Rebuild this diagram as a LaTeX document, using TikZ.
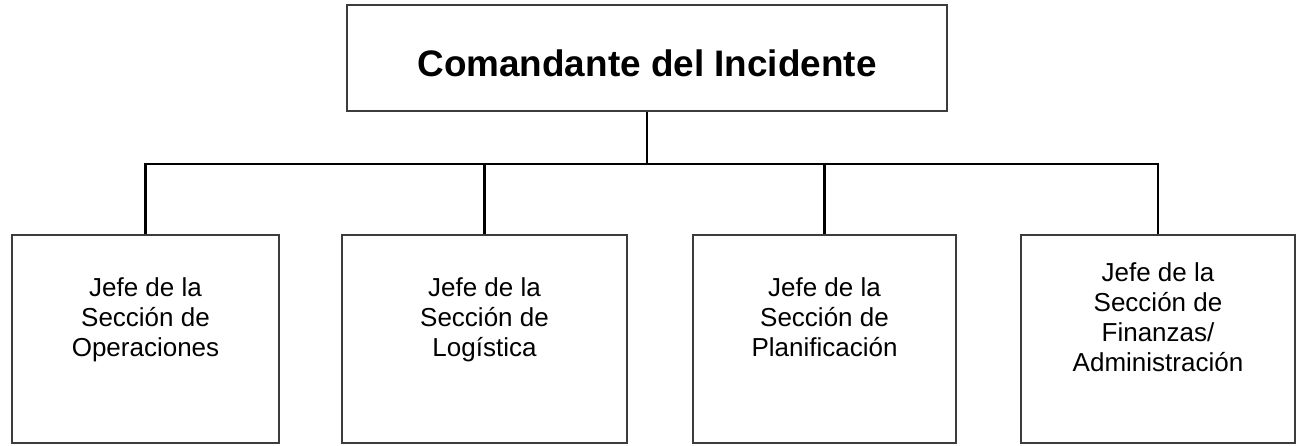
\documentclass[tikz,border=0pt]{standalone}
\usepackage{fontspec}
\setmainfont{Liberation Sans}
\usetikzlibrary{positioning}
\definecolor{boxgray}{RGB}{60,60,60}

\begin{document}
\begin{tikzpicture}[x=0.02cm, y=-0.02cm,
    chiefbox/.style={draw=boxgray, line width=1.1pt, minimum width=12cm, minimum height=2.12cm},
    sectionbox/.style={draw=boxgray, line width=1.1pt, minimum height=4.16cm},
    sectiontext/.style={align=center, font=\fontsize{14.8pt}{17pt}\selectfont,
      execute at end node=\vphantom{p}},
    link/.style={draw=black, line width=1.6pt}]
    \useasboundingbox (0,0) rectangle (1296,446);
    \def\rowy{339}  % centre of the section boxes
    \def\busy{164}  % height of the horizontal bar
    % Incident commander
    \node[chiefbox,
      label={[name=ic-txt, yshift=-0.1cm, font=\fontsize{21pt}{25pt}\selectfont\bfseries]center:Comandante del Incidente}]
      (ic) at (647,58) {};
    % Section chiefs: name/centre x/width/text
    \foreach \name/\cx/\w/\txt in {
        ops/145.5/5.34/{Jefe de la\\Sección de\\Operaciones},
        log/484.5/5.70/{Jefe de la\\Sección de\\Logística},
        plan/824.5/5.26/{Jefe de la\\Sección de\\Planificación},
        fin/1158/5.48/{Jefe de la\\Sección de\\Finanzas/\\Administración}} {
      \node[sectionbox, minimum width=\w cm,
        label={[name=\name-txt, sectiontext, yshift=0.39cm]center:\txt}]
        (\name) at (\cx,\rowy) {};
    }
    % Connectors
    \coordinate (bus) at (647,\busy);
    \draw[link] (ic.south) -- (bus);
    \foreach \name in {ops,log,plan,fin} {
      \draw[link] (\name.north) |- (bus);
    }
\end{tikzpicture}
\end{document}
